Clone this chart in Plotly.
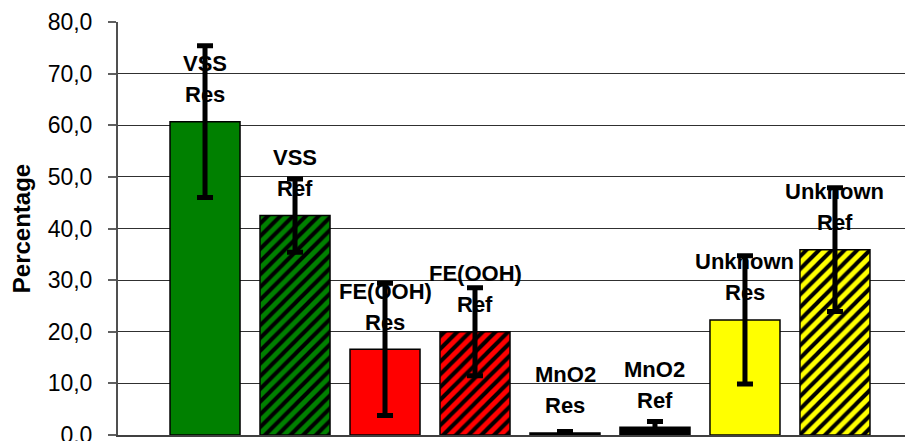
import plotly.graph_objects as go

# Datos
categories = ['VSS Res', 'VSS Ref', 'FE(OOH) Res', 'FE(OOH) Ref',
              'MnO2 Res', 'MnO2 Ref', 'Unknown Res', 'Unknown Ref']
label_top = ['VSS', 'VSS', 'FE(OOH)', 'FE(OOH)', 'MnO2', 'MnO2', 'Unknown', 'Unknown']
label_bottom = ['Res', 'Ref', 'Res', 'Ref', 'Res', 'Ref', 'Res', 'Ref']
values = [60.7, 42.5, 16.6, 20.0, 0.4, 1.5, 22.3, 35.9]
errors = [14.7, 7.1, 12.8, 8.5, 0.3, 1.1, 12.4, 12.0]
colors = ['#008000', '#008000', '#FF0000', '#FF0000',
          '#000000', '#000000', '#FFFF00', '#FFFF00']
hatch = ['', '/', '', '/', '', '/', '', '/']
y_ticks = [0, 10, 20, 30, 40, 50, 60, 70, 80]

FONT = 'Liberation Sans, Arial, sans-serif'

fig = go.Figure()

# Una traza por barra para que el rayado use fgcolor negro
for cat, v, err, col, shp in zip(categories, values, errors, colors, hatch):
    fig.add_trace(go.Bar(
        x=[cat],
        y=[v],
        marker=dict(
            color=col,
            line=dict(color='black', width=1.5),
            pattern=dict(shape=shp, fillmode='replace', bgcolor=col,
                         fgcolor='black', fgopacity=1, size=9, solidity=0.45),
        ),
        error_y=dict(type='data', array=[err], visible=True,
                     color='black', thickness=5, width=8),
        showlegend=False,
    ))

# Etiquetas de dos líneas encima de cada barra
for cat, v, top, bottom in zip(categories, values, label_top, label_bottom):
    fig.add_annotation(x=cat, y=v, text=f'<b>{bottom}</b>', showarrow=False,
                       yanchor='middle', yshift=27,
                       font=dict(family=FONT, size=22, color='black'))
    fig.add_annotation(x=cat, y=v, text=f'<b>{top}</b>', showarrow=False,
                       yanchor='middle', yshift=58,
                       font=dict(family=FONT, size=22, color='black'))

# la página tiene 8px de margen en body: se compensa en el tamaño
fig.update_layout(
    width=905, height=433,
    margin=dict(l=110, r=0, t=14, b=6),
    paper_bgcolor='white', plot_bgcolor='white',
    barmode='overlay',
    bargap=0.222,
    separators=',.',
    font=dict(family=FONT, size=22, color='black'),
    xaxis=dict(
        categoryorder='array', categoryarray=categories,
        range=[-0.967, 7.867],
        showticklabels=False, ticks='',
        showgrid=False, zeroline=False,
        showline=True, linecolor='#404040', linewidth=2,
    ),
    yaxis=dict(
        range=[0, 80],
        tickvals=y_ticks, tickformat='.1f',
        ticks='outside', ticklen=8, tickcolor='#606060', tickwidth=2,
        ticklabelstandoff=11, ticklabeloverflow='allow',
        showgrid=True, gridcolor='#303030', gridwidth=1,
        zeroline=False,
        showline=True, linecolor='#505050', linewidth=2,
        tickfont=dict(family=FONT, size=23, color='black'),
        title=dict(text='<b>Percentage</b>', standoff=13,
                   font=dict(family=FONT, size=24, color='black')),
        automargin=False,
    ),
)

fig.write_html('out.html')
